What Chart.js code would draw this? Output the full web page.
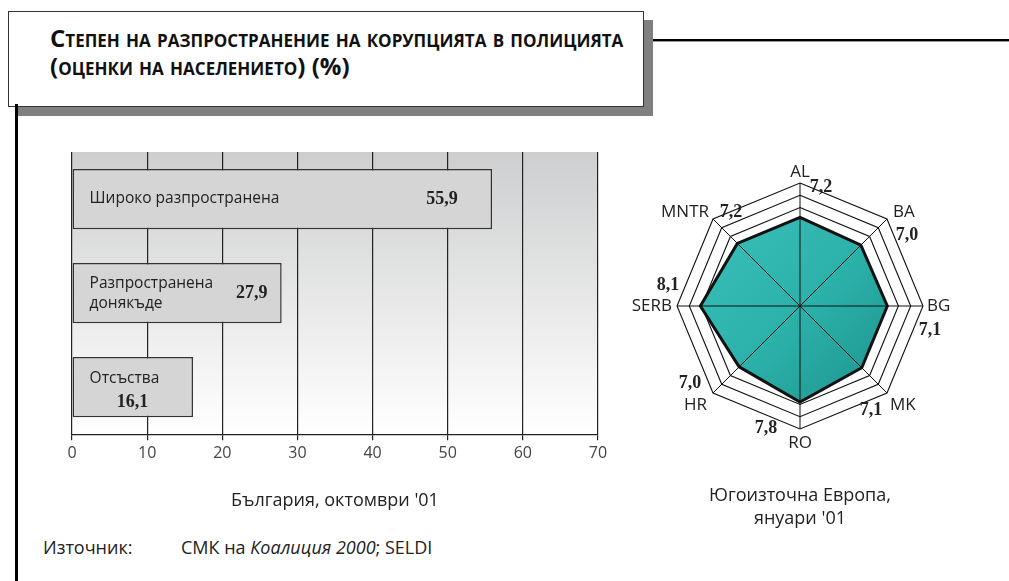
<!DOCTYPE html>
<html>
<head>
<meta charset="utf-8">
<script src="https://cdn.jsdelivr.net/npm/chart.js@4/dist/chart.umd.min.js"></script>
<style>
  body { margin: 0; width: 1009px; height: 581px; background: #fff; position: relative; overflow: hidden; font-family: "Open Sans", sans-serif; color: #222; }
  .titlebox { position: absolute; left: 8px; top: 11px; width: 634px; height: 94px; border: 1px solid #333; background: #fff; box-shadow: 9px 9px 0 #808080; z-index: 2; }
  .titlebox div { position: absolute; left: 41px; top: 12px; font-weight: 700; font-size: 24px; line-height: 28px; font-variant: small-caps; color: #111; white-space: nowrap; }
  .topline { position: absolute; left: 652px; top: 39px; width: 357px; height: 2px; background: #000; border-bottom: 1px solid #999; }
  .leftline { position: absolute; left: 15px; top: 104px; width: 3px; height: 480px; background: #000; z-index: 3; }
  .source { position: absolute; top: 535px; font-size: 18px; color: #222; }
  canvas { position: absolute; }
</style>
</head>
<body>
<div class="titlebox"><div>Степен на разпространение на корупцията в полицията<br>(оценки на населението) (%)</div></div>
<div class="topline"></div>
<div class="leftline"></div>
<div class="source" style="left:43px">Източник:</div>
<div class="source" style="left:181px">СМК на <i>Коалиция 2000</i>; SELDI</div>

<canvas id="bars" style="left:0;top:130px" width="660" height="400"></canvas>
<canvas id="radar" style="left:620px;top:150px" width="360" height="381"></canvas>

<script>
const barCategories = [["Широко разпространена"], ["Разпространена", "донякъде"], ["Отсъства"]];
const barValues = [55.9, 27.9, 16.1];
const barAxisTitle = "България, октомври '01";

const radarLabels = ["AL", "BA", "BG", "MK", "RO", "HR", "SERB", "MNTR"];
const radarValues = [7.2, 7.0, 7.1, 7.1, 7.8, 7.0, 8.1, 7.2];
const radarTitle = ["Югоизточна Европа,", "януари '01"];

const fmt = (v) => v.toFixed(1).replace(".", ",");

// where the texts sit inside each bar (offsets in px)
const barTextLayout = [
  { nameX: 17, nameY: [0], valueFrom: "end", valueX: -50, valueY: 0 },
  { nameX: 17, nameY: [-10, 10], valueFrom: "end", valueX: -30, valueY: 0 },
  { nameX: 17, nameY: [-9], valueFrom: "base", valueX: 60, valueY: 15 },
];

// offsets from the outer ring corner for names and values on the radar
const radarNameLayout = [
  { dx: 0, dy: -11, align: "center" },
  { dx: 6, dy: -7, align: "left" },
  { dx: 4, dy: 0, align: "left" },
  { dx: 3, dy: 12, align: "left" },
  { dx: 0, dy: 14, align: "center" },
  { dx: -6, dy: 12, align: "right" },
  { dx: -5, dy: 0, align: "right" },
  { dx: -4, dy: -7, align: "right" },
];
const radarValueLayout = [
  { dx: 21, dy: 4 }, { dx: 20, dy: 16 }, { dx: 7, dy: 24 }, { dx: -16, dy: 17 },
  { dx: -34, dy: -1 }, { dx: -23, dy: -10 }, { dx: -9, dy: -21 }, { dx: 18, dy: -7 },
];

const plotBackground = {
  id: "plotBackground",
  beforeDraw(chart) {
    const { ctx, chartArea: a } = chart;
    const g = ctx.createLinearGradient(0, a.top, 0, a.bottom);
    g.addColorStop(0, "#cdcecf");
    g.addColorStop(1, "#ffffff");
    ctx.save();
    ctx.fillStyle = g;
    ctx.fillRect(a.left, a.top, a.right - a.left, a.bottom - a.top);
    ctx.restore();
  },
};

const barTexts = {
  id: "barTexts",
  afterDatasetsDraw(chart) {
    const ctx = chart.ctx;
    const meta = chart.getDatasetMeta(0);
    ctx.save();
    ctx.textBaseline = "middle";
    meta.data.forEach((bar, i) => {
      const lay = barTextLayout[i];
      ctx.fillStyle = "#222";
      ctx.textAlign = "left";
      ctx.font = "15.5px 'Open Sans'";
      barCategories[i].forEach((line, j) => {
        ctx.fillText(line, bar.base + lay.nameX, bar.y + lay.nameY[j]);
      });
      ctx.textAlign = "center";
      ctx.font = "bold 18px 'Liberation Serif'";
      const x0 = lay.valueFrom === "end" ? bar.x : bar.base;
      ctx.fillText(fmt(barValues[i]), x0 + lay.valueX, bar.y + lay.valueY);
    });
    ctx.restore();
  },
};

new Chart(document.getElementById("bars"), {
  type: "bar",
  data: {
    labels: barCategories,
    datasets: [{
      data: barValues,
      backgroundColor: "#d5d5d6",
      borderColor: "#333",
      borderWidth: 1.5,
      borderSkipped: false,
      barPercentage: 0.64,
      categoryPercentage: 1,
    }],
  },
  options: {
    indexAxis: "y",
    responsive: false,
    animation: false,
    layout: { padding: { left: 72, right: 62, top: 22, bottom: 18 } },
    plugins: { legend: { display: false }, tooltip: { enabled: false } },
    scales: {
      x: {
        min: 0,
        max: 70,
        ticks: { stepSize: 10, padding: 4, color: "#444", font: { family: "Open Sans", size: 16, lineHeight: 1.2 } },
        grid: { color: "#222", lineWidth: 1.2, tickLength: 6 },
        border: { color: "#222", width: 1.3 },
        title: {
          display: true,
          text: barAxisTitle,
          color: "#222",
          padding: { top: 23, bottom: 0 },
          font: { family: "Open Sans", size: 18, lineHeight: 1.2 },
        },
      },
      y: { display: false },
    },
  },
  plugins: [plotBackground, barTexts],
});

const radarOverlay = {
  id: "radarOverlay",
  afterDatasetsDraw(chart) {
    const ctx = chart.ctx;
    const r = chart.scales.r;
    ctx.save();
    ctx.strokeStyle = "#111";
    ctx.lineWidth = 1;
    radarLabels.forEach((name, i) => {
      const p = r.getPointPosition(i, r.drawingArea);
      ctx.beginPath();
      ctx.moveTo(r.xCenter, r.yCenter);
      ctx.lineTo(p.x, p.y);
      ctx.stroke();
    });
    ctx.textBaseline = "middle";
    radarLabels.forEach((name, i) => {
      const p = r.getPointPosition(i, r.drawingArea);
      const nl = radarNameLayout[i];
      ctx.fillStyle = "#222";
      ctx.font = "17px 'Open Sans'";
      ctx.textAlign = nl.align;
      ctx.fillText(name, p.x + nl.dx, p.y + nl.dy);
      const vl = radarValueLayout[i];
      ctx.font = "bold 18px 'Liberation Serif'";
      ctx.textAlign = "center";
      ctx.fillText(fmt(radarValues[i]), p.x + vl.dx, p.y + vl.dy);
    });
    ctx.restore();
  },
};

new Chart(document.getElementById("radar"), {
  type: "radar",
  data: {
    labels: radarLabels,
    datasets: [{
      data: radarValues,
      borderColor: "#111",
      borderWidth: 3,
      pointRadius: 0,
      backgroundColor: (c) => {
        const a = c.chart.chartArea;
        if (!a) return "#2db3ac";
        const g = c.chart.ctx.createLinearGradient(a.left, a.top, a.right, a.bottom);
        g.addColorStop(0, "#3dc4bc");
        g.addColorStop(0.5, "#2cb2ab");
        g.addColorStop(1, "#178983");
        return g;
      },
    }],
  },
  options: {
    responsive: false,
    animation: false,
    layout: { padding: { left: 57, right: 57, top: 33, bottom: 0 } },
    plugins: {
      legend: { display: false },
      tooltip: { enabled: false },
      title: {
        display: true,
        position: "bottom",
        text: radarTitle,
        color: "#222",
        padding: { top: 55, bottom: 0 },
        font: { family: "Open Sans", size: 18, weight: "normal", lineHeight: 1.3 },
      },
    },
    scales: {
      r: {
        min: 0,
        max: 10,
        ticks: { display: false, stepSize: 1 },
        pointLabels: { display: false },
        grid: { circular: false, color: "#111", lineWidth: 1.1 },
        angleLines: { display: false },
      },
    },
  },
  plugins: [radarOverlay],
});
</script>
</body>
</html>
